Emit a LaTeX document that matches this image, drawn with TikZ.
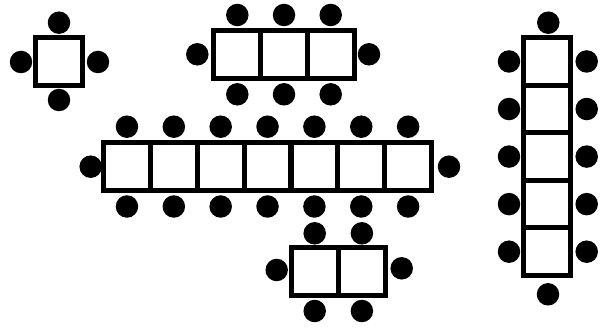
\documentclass[tikz,border=0pt]{standalone}
\usetikzlibrary{positioning}
\tikzset{
  cell/.style={draw=black, line width=5pt, minimum width=47pt, minimum height=47.5pt, inner sep=0pt},
  seat/.style={circle, fill=black, minimum size=22.5pt, inner sep=0pt}
}
\begin{document}
\begin{tikzpicture}[x=1pt, y=-1pt]
  \useasboundingbox (0,0) rectangle (603,328);
  % single table, top left
  \node[cell] (a1) at (58.5,61.3) {};
  \node[seat] (an) at (59,22.7) {};
  \node[seat] (as) at (59,100) {};
  \node[seat] (aw) at (21,62) {};
  \node[seat] (ae) at (98,62) {};

  % three tables, top middle
  \foreach \i in {1,2,3} {
    \node[cell] (b\i) at ({190.6+46.7*\i},54.6) {};
    \node[seat] (bn\i) at ({190.6+46.7*\i},15) {};
    \node[seat] (bs\i) at ({190.6+46.7*\i},94.3) {};
  }
  \node[seat] (bw) at (197.3,54.3) {};
  \node[seat] (be) at (369,54.3) {};

  % seven tables, middle row
  \foreach \i in {1,...,7} {
    \node[cell] (c\i) at ({80.1+46.86*\i},166.4) {};
    \node[seat] (cn\i) at ({80.1+46.86*\i},126.7) {};
    \node[seat] (cs\i) at ({80.1+46.86*\i},206.5) {};
  }
  \node[seat] (cw) at (90.7,166.7) {};
  \node[seat] (ce) at (449,166.7) {};

  % two tables, bottom
  \foreach \i in {1,2} {
    \node[cell] (d\i) at ({267.5+47.2*\i},271.3) {};
    \node[seat] (dn\i) at ({267.5+47.2*\i},233.3) {};
    \node[seat] (ds\i) at ({267.5+47.2*\i},311) {};
  }
  \node[seat] (dw) at (276.7,270) {};
  \node[seat] (de) at (401.7,268.3) {};

  % five tables, right column
  \foreach \i in {1,...,5} {
    \node[cell] (e\i) at (546.7,{13.9+47.56*\i}) {};
    \node[seat] (ew\i) at (509,{13.9+47.56*\i}) {};
    \node[seat] (ee\i) at (586.7,{13.9+47.56*\i}) {};
  }
  \node[seat] (en) at (548.3,22.7) {};
  \node[seat] (es) at (548,294.3) {};
\end{tikzpicture}
\end{document}
